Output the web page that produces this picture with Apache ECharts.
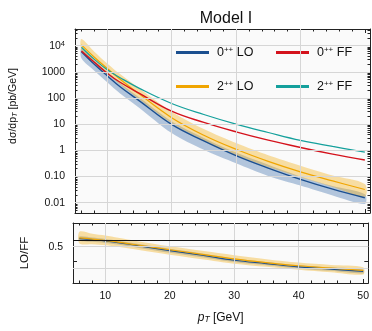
<!DOCTYPE html>
<html>
<head>
<meta charset="utf-8">
<script src="https://cdn.jsdelivr.net/npm/echarts@6/dist/echarts.min.js"></script>
<style>
  html, body { margin: 0; padding: 0; background: #fff; }
  #chart { width: 372px; height: 331px; }
</style>
</head>
<body>
<div id="chart"></div>
<script>
// pT points
const pT = [6, 8, 10, 12, 15, 20, 25, 30, 35, 40, 45, 50];

// top panel, pb/GeV
const lo0 = [5900, 1950, 710, 270, 78, 9.8, 2.3, 0.63, 0.21, 0.078, 0.033, 0.0155];
const ff0 = [6300, 2340, 890, 400, 151, 31.6, 11.7, 5.1, 2.45, 1.29, 0.72, 0.43];
const lo2 = [10700, 3630, 1350, 525, 141, 17.8, 3.8, 1.1, 0.38, 0.151, 0.068, 0.032];
const ff2 = [8700, 3000, 1200, 600, 234, 62, 23.4, 10, 4.8, 2.4, 1.41, 0.85];

// uncertainty bands of the LO curves
const lo0Lower = [3300, 1100, 400, 150, 42, 4.6, 1.05, 0.32, 0.105, 0.045, 0.019, 0.009];
const lo0Upper = [8000, 2700, 980, 370, 105, 13, 3.0, 0.82, 0.28, 0.1, 0.043, 0.021];
const lo2Lower = [6900, 2300, 830, 330, 88, 11, 2.4, 0.66, 0.23, 0.095, 0.04, 0.017];
const lo2Upper = [18000, 5900, 2100, 820, 230, 30, 6.5, 1.9, 0.65, 0.26, 0.11, 0.052];

// ratio panel LO/FF
const r0 = [1.19, 1.08, 0.93, 0.78, 0.56, 0.33, 0.2, 0.116, 0.081, 0.057, 0.045, 0.035];
const r2 = [1.28, 1.13, 0.97, 0.82, 0.6, 0.36, 0.22, 0.134, 0.09, 0.064, 0.05, 0.039];
const r0Lower = [0.95, 0.85, 0.75, 0.63, 0.45, 0.26, 0.16, 0.095, 0.067, 0.047, 0.037, 0.028];
const r0Upper = [1.5, 1.35, 1.15, 0.95, 0.68, 0.4, 0.24, 0.14, 0.097, 0.068, 0.054, 0.042];
const r2Lower = [0.7, 0.65, 0.58, 0.5, 0.36, 0.21, 0.13, 0.08, 0.057, 0.042, 0.032, 0.025];
const r2Upper = [2.5, 2.0, 1.65, 1.3, 0.9, 0.52, 0.32, 0.2, 0.13, 0.09, 0.07, 0.055];

// ticks
const xMajor = [10, 20, 30, 40, 50];
const xMinor = [6, 8, 12, 14, 16, 18, 22, 24, 26, 28, 32, 34, 36, 38, 42, 44, 46, 48];
const xGrid = [10, 20, 30, 40];
const yMajor = [0.01, 0.1, 1, 10, 100, 1000, 10000];
const yTickLabels = ['0.01', '0.10', '1', '10', '100', '1000', '10{sup|4}'];
const rTicks = [0.1, 0.5];
const rLabels = [0.5];
const rGrid = [0.5, 0.05];

const Y_MIN = 0.00404, Y_MAX = 43450;
const R_MIN = 0.01, R_MAX = 6.4;
const X_MIN = 5, X_MAX = 50.8;

// minor log ticks 2..9 per decade
let yMinor = [];
[0.001, 0.01, 0.1, 1, 10, 100, 1000, 10000].forEach(d => {
  for (let k = 2; k <= 9; k++) {
    const v = +(d * k).toPrecision(3);
    if (v > Y_MIN && v < Y_MAX) yMinor.push(v);
  }
});

const BLUE = '#1b4f8f', RED = '#d4121c', ORANGE = '#f0a500', TEAL = '#14a09c';
const DARK = '#222';
const GRIDC = '#d6d6d6';

const pts = (xs, ys) => xs.map((x, i) => [x, ys[i]]);

function tickAxis(gridIndex, position, ticks, len, withLine, extra) {
  return Object.assign({
    gridIndex: gridIndex,
    position: position,
    axisLine: { show: withLine, onZero: false, lineStyle: { color: DARK, width: 1 } },
    axisTick: { show: true, inside: true, length: len, customValues: ticks, lineStyle: { color: DARK, width: 1 } },
    axisLabel: { show: false },
    splitLine: { show: false }
  }, extra || {});
}

const xBase = { type: 'value', min: X_MIN, max: X_MAX };
const yTop = { type: 'log', min: Y_MIN, max: Y_MAX };
const yRat = { type: 'log', min: R_MIN, max: R_MAX };

const xAxis = [
  tickAxis(0, 'bottom', xMajor, 4, true, xBase),
  tickAxis(0, 'bottom', xMinor, 2.5, false, xBase),
  tickAxis(0, 'top', xMajor, 4, true, xBase),
  tickAxis(0, 'top', xMinor, 2.5, false, xBase),
  tickAxis(1, 'bottom', xMajor, 4, true, Object.assign({}, xBase, {
    axisLabel: { show: true, customValues: xMajor, margin: 8, fontSize: 10.5, color: '#111' },
    name: '{it|p}{sub|T} [GeV]',
    nameLocation: 'middle',
    nameGap: 29,
    nameTextStyle: {
      fontSize: 12, color: '#111',
      rich: { it: { fontSize: 12, fontStyle: 'italic', color: '#111' },
              sub: { fontSize: 8.5, fontStyle: 'italic', verticalAlign: 'bottom', color: '#111' } }
    }
  })),
  tickAxis(1, 'bottom', xMinor, 2.5, false, xBase),
  tickAxis(1, 'top', xMajor, 4, true, xBase),
  tickAxis(1, 'top', xMinor, 2.5, false, xBase)
];

const yAxis = [
  tickAxis(0, 'left', yMajor, 4, true, Object.assign({}, yTop, {
    axisLabel: {
      show: true, customValues: yMajor, margin: 10, fontSize: 10.5, color: '#111',
      formatter: v => {
        const i = yMajor.findIndex(m => Math.abs(Math.log10(m) - Math.log10(v)) < 1e-6);
        return i >= 0 ? yTickLabels[i] : '';
      },
      rich: { sup: { fontSize: 7.5, verticalAlign: 'top', color: '#111' } }
    },
    name: 'dσ/dp{sub|T} [pb/GeV]',
    nameLocation: 'middle',
    nameGap: 56,
    nameTextStyle: {
      fontSize: 10.5, color: '#111', padding: [0, 0, 0, 30],
      rich: { sub: { fontSize: 7.5, fontStyle: 'italic', verticalAlign: 'bottom', color: '#111' } }
    }
  })),
  tickAxis(0, 'left', yMinor, 2.5, false, yTop),
  tickAxis(0, 'right', yMajor, 4, true, yTop),
  tickAxis(0, 'right', yMinor, 2.5, false, yTop),
  tickAxis(1, 'left', rTicks, 4, true, Object.assign({}, yRat, {
    axisLabel: { show: true, customValues: rLabels, margin: 10, fontSize: 10.5, color: '#111', formatter: v => String(+v.toPrecision(3)) },
    name: 'LO/FF',
    nameLocation: 'middle',
    nameGap: 42,
    nameTextStyle: { fontSize: 11.5, color: '#111' }
  })),
  tickAxis(1, 'right', rTicks, 4, true, yRat)
];

const markGrid = (xs, ys, color) => ({
  silent: true, symbol: ['none', 'none'], animation: false,
  label: { show: false },
  lineStyle: { color: color, width: 1, type: 'solid' },
  emphasis: { disabled: true },
  data: xs.map(v => ({ xAxis: v })).concat(ys.map(v => ({ yAxis: v })))
});

// filled band between two read curves, placed through the axes' scales
function band(lo, hi, color, xi, yi) {
  return {
    type: 'custom', xAxisIndex: xi, yAxisIndex: yi, silent: true, clip: true,
    data: [[pT[0], hi[0]]],
    renderItem: (params, api) => {
      const up = pT.map((x, i) => api.coord([x, hi[i]]));
      const dn = pT.map((x, i) => api.coord([x, lo[i]])).reverse();
      return {
        type: 'polygon',
        shape: { points: up.concat(dn), smooth: 0.3 },
        style: { fill: color }
      };
    }
  };
}

function curve(name, ys, color, width, xi, yi, mark) {
  const s = { name: name, type: 'line', xAxisIndex: xi, yAxisIndex: yi, data: pts(pT, ys),
    smooth: 0.4, symbol: 'none', color: color, lineStyle: { color: color, width: width } };
  if (mark) s.markLine = mark;
  return s;
}

// invisible host for grid lines
function gridHost(xi, yi, mark) {
  return { type: 'line', xAxisIndex: xi, yAxisIndex: yi, data: [], silent: true, markLine: mark, z: 1 };
}

const BAND_B = 'rgba(60,110,170,0.38)';
const BAND_O = 'rgba(242,178,30,0.40)';

const series = [
  gridHost(0, 0, markGrid(xGrid, yMajor, GRIDC)),
  band(lo0Lower, lo0Upper, BAND_B, 0, 0),
  band(lo2Lower, lo2Upper, BAND_O, 0, 0),
  curve('0++ LO', lo0, BLUE, 1.4, 0, 0),
  curve('2++ LO', lo2, ORANGE, 1.2, 0, 0),
  curve('0++ FF', ff0, RED, 1.4, 0, 0),
  curve('2++ FF', ff2, TEAL, 1.2, 0, 0),
  gridHost(4, 4, markGrid(xGrid, rGrid, GRIDC)),
  band(r0Lower, r0Upper, BAND_B, 4, 4),
  curve('r0', r0, BLUE, 1.2, 4, 4),
  band(r2Lower, r2Upper, BAND_O, 4, 4),
  curve('r2', r2, ORANGE, 1.2, 4, 4, markGrid([], [1], '#111'))
];

const legendText = {
  fontSize: 12.5, color: '#111', padding: [0, 0, 0, 3],
  rich: { sup: { fontSize: 8, verticalAlign: 'top', color: '#111' } }
};
const legendFmt = n => n.replace('++', '{sup|++}');
function leg(name, left, top) {
  return { data: [name], left: left, top: top, icon: 'rect', itemWidth: 33, itemHeight: 3,
    selectedMode: false, formatter: legendFmt, textStyle: legendText, padding: 0 };
}

const option = {
  animation: false,
  textStyle: { fontFamily: 'Liberation Sans, Arial, sans-serif' },
  title: {
    text: 'Model I', left: 221, top: 6, textAlign: 'center',
    textStyle: { fontSize: 16, fontWeight: 'normal', color: '#111' }
  },
  legend: [
    leg('0++ LO', 176, 46),
    leg('0++ FF', 276, 46),
    leg('2++ LO', 176, 80),
    leg('2++ FF', 276, 80)
  ],
  grid: [
    { left: 73, right: 2, top: 29, height: 184, show: true, backgroundColor: '#fafafa', borderWidth: 0 },
    { left: 73, right: 2, top: 223, height: 60, show: true, backgroundColor: '#fafafa', borderWidth: 0 }
  ],
  xAxis: xAxis,
  yAxis: yAxis,
  series: series
};

const chart = echarts.init(document.getElementById('chart'));
chart.setOption(option);
</script>
</body>
</html>
